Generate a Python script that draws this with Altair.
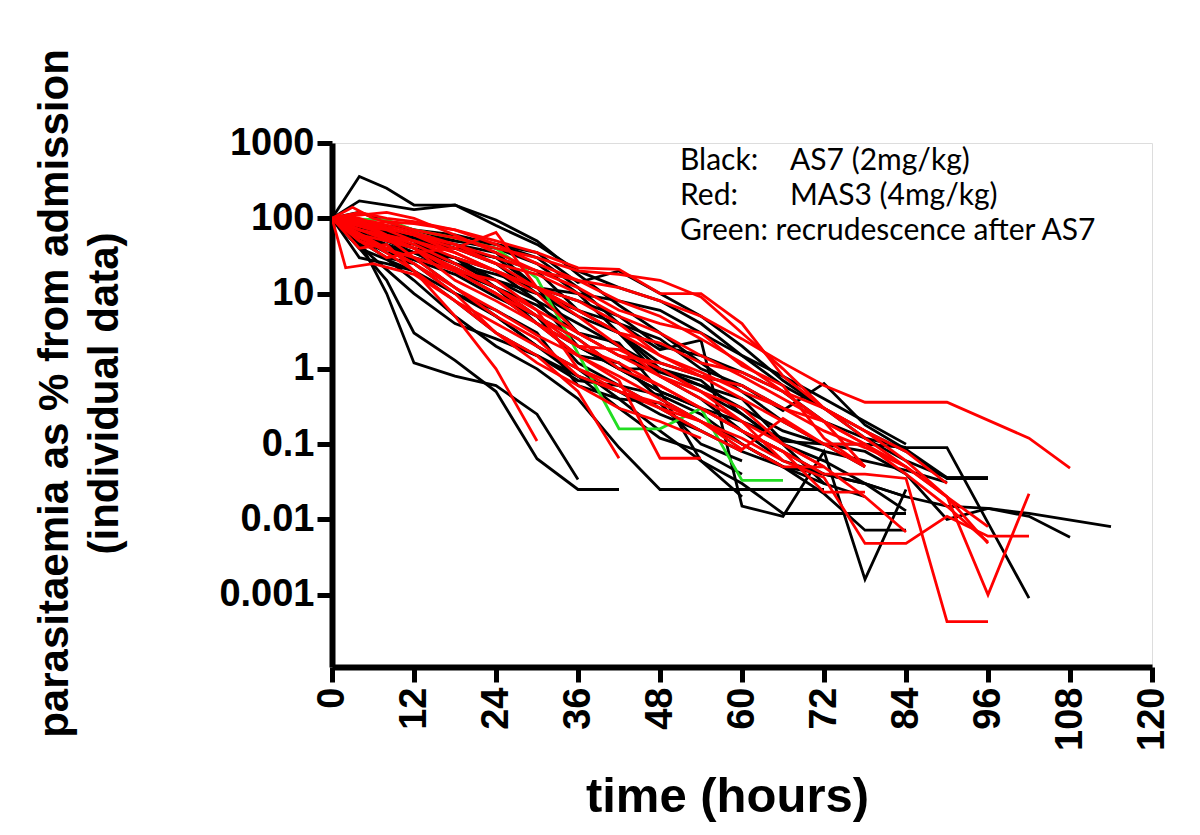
import altair as alt
import pandas as pd

# ---- data: each dict maps time (h) -> parasitaemia (% of admission)
BLACK_LINES = [
    {0: 100, 4: 360, 8: 250, 12: 150, 18: 150, 24: 95, 30: 50, 36: 18, 42: 7, 48: 3, 54: 1.2, 60: 0.5, 66: 0.2, 72: 0.1, 78: 0.05},
    {0: 100, 4: 170, 8: 150, 12: 130, 18: 150, 24: 80, 30: 45, 36: 20, 42: 12, 48: 8, 54: 4, 60: 1.5, 66: 0.6, 72: 0.3, 78: 0.12, 84: 0.06, 90: 0.036, 96: 0.036},
    {0: 100, 6: 80, 12: 60, 18: 40, 24: 30, 30: 12, 36: 8, 42: 5, 48: 2, 54: 1.5, 60: 0.9, 66: 0.5, 72: 0.2, 78: 0.12, 84: 0.09, 90: 0.09, 96: 0.009, 102: 0.0009},
    {0: 100, 4: 60, 12: 45, 18: 30, 24: 12, 30: 5, 36: 2.5, 42: 1, 48: 0.5, 54: 0.3, 60: 0.15, 66: 0.08, 72: 0.04, 78: 0.03, 84: 0.02, 90: 0.015, 96: 0.014, 102: 0.012, 114: 0.008},
    {0: 100, 6: 70, 12: 50, 18: 25, 24: 15, 30: 8, 36: 4, 42: 2, 48: 1, 54: 0.6, 60: 0.3, 66: 0.15, 72: 0.1, 78: 0.08, 84: 0.04, 90: 0.01, 96: 0.014, 102: 0.011, 108: 0.0058},
    {0: 100, 4: 70, 12: 40, 18: 30, 24: 15, 30: 10, 36: 5, 42: 3, 48: 1.2, 54: 0.8, 60: 0.6, 66: 0.28, 72: 0.64, 78: 0.18, 84: 0.085, 90: 0.036, 96: 0.036},
    {0: 100, 6: 50, 12: 35, 18: 20, 24: 10, 30: 4, 36: 2, 42: 1, 48: 0.5, 54: 0.3, 60: 0.2, 66: 0.12, 72: 0.08, 78: 0.06, 84: 0.045, 90: 0.031},
    {0: 100, 4: 40, 12: 20, 18: 10, 24: 5, 30: 2, 36: 0.8, 42: 0.5, 48: 0.25, 54: 0.15, 60: 0.08, 66: 0.05, 72: 0.022, 78: 0.0072, 84: 0.0072},
    {0: 100, 4: 50, 12: 30, 18: 12, 24: 5, 30: 2, 36: 1, 42: 0.4, 48: 0.15, 54: 0.06, 60: 0.03, 66: 0.012, 84: 0.012},
    {0: 100, 4: 80, 12: 50, 18: 40, 24: 25, 30: 10, 36: 6, 42: 4, 48: 1.8, 54: 2.4, 60: 0.015, 66: 0.011, 72: 0.08, 78: 0.0016, 84: 0.025},
    {0: 100, 4: 40, 8: 15, 12: 3, 18: 1.3, 24: 0.5, 30: 0.064, 36: 0.025, 42: 0.025},
    {0: 100, 4: 50, 8: 10, 12: 1.2, 18: 0.8, 24: 0.6, 30: 0.25, 36: 0.034},
    {0: 100, 6: 40, 12: 15, 18: 5, 24: 2, 30: 1, 36: 0.4, 42: 0.09, 48: 0.025, 72: 0.025},
    {0: 100, 4: 90, 8: 70, 12: 55, 18: 40, 24: 30, 30: 20, 36: 6, 42: 3, 48: 1, 54: 0.5, 60: 0.25, 66: 0.1, 72: 0.06, 78: 0.03, 84: 0.013},
    {0: 100, 6: 60, 12: 35, 18: 20, 24: 12, 30: 4, 36: 1.5, 42: 1.2, 48: 0.4, 54: 0.2, 60: 0.1, 66: 0.05, 72: 0.03},
    {0: 100, 4: 50, 8: 30, 12: 25, 18: 10, 24: 6, 30: 3, 36: 0.6, 42: 0.4, 48: 0.35, 54: 0.1, 60: 0.06},
    {0: 100, 4: 70, 12: 55, 18: 45, 24: 35, 30: 12, 36: 3, 42: 1.5, 48: 0.9, 54: 0.6, 60: 0.4, 66: 0.11, 72: 0.1, 78: 0.1, 84: 0.09},
    {0: 100, 4: 30, 8: 25, 12: 20, 18: 8, 24: 3, 30: 1.5, 36: 0.8, 42: 0.3, 48: 0.12, 54: 0.08, 60: 0.04},
    {0: 100, 6: 85, 12: 70, 18: 50, 24: 40, 30: 25, 36: 10, 42: 8, 48: 6, 54: 3, 60: 1.5, 66: 0.8, 72: 0.4, 78: 0.2, 84: 0.1},
    {0: 100, 4: 45, 12: 35, 18: 30, 24: 20, 30: 8, 36: 2, 42: 1, 48: 1, 54: 0.7, 60: 0.25, 66: 0.1, 72: 0.03, 78: 0.02},
    {0: 100, 6: 30, 12: 10, 18: 4, 24: 2.5, 30: 1.5, 36: 0.7, 42: 0.6, 48: 0.3, 54: 0.15},
    {0: 100, 4: 75, 12: 60, 18: 50, 24: 45, 30: 30, 36: 12, 42: 4, 48: 2.5, 54: 1, 60: 0.6, 66: 0.3},
    {0: 100, 8: 50, 12: 40, 18: 25, 24: 18, 30: 12, 36: 10, 42: 3, 48: 0.8, 54: 0.4, 60: 0.15, 66: 0.06, 72: 0.04, 78: 0.03, 84: 0.02},
    {0: 100, 4: 65, 8: 45, 12: 30, 18: 22, 24: 12, 30: 7, 36: 3, 42: 2.2, 48: 0.5, 54: 0.06, 60: 0.02},
    {0: 100, 3: 60, 8: 35, 12: 28, 18: 18, 24: 9, 30: 5, 36: 1.2, 42: 0.6, 48: 0.45, 54: 0.25, 60: 0.1, 66: 0.05, 72: 0.04},
    {0: 100, 4: 120, 8: 90, 12: 70, 18: 60, 24: 45, 30: 35, 36: 14, 42: 20, 48: 10, 54: 5, 60: 2, 66: 0.7, 72: 0.3, 78: 0.15, 84: 0.08, 90: 0.035, 96: 0.035},
]

RED_LINES = [
    {0: 100, 4: 120, 8: 100, 12: 90, 18: 70, 24: 50, 30: 35, 36: 22, 42: 21, 48: 10, 54: 10, 60: 4, 66: 0.8, 72: 0.3, 78: 0.12, 84: 0.05},
    {0: 100, 4: 80, 8: 90, 12: 85, 18: 70, 24: 45, 30: 25, 36: 15, 42: 12, 48: 8, 54: 5, 60: 2.5, 66: 1.2, 72: 0.6, 78: 0.36, 90: 0.36, 102: 0.12, 108: 0.048},
    {0: 100, 6: 60, 12: 40, 18: 20, 24: 10, 30: 5, 36: 2, 42: 1.2, 48: 0.6, 54: 0.3, 60: 0.15, 66: 0.08, 72: 0.04, 78: 0.04, 84: 0.035, 90: 0.00044, 96: 0.00044},
    {0: 100, 4: 70, 12: 50, 18: 30, 24: 20, 30: 12, 36: 6, 42: 3, 48: 2.2, 54: 1.2, 60: 0.9, 66: 0.5, 72: 0.3, 78: 0.15, 84: 0.06, 90: 0.02, 96: 0.001, 102: 0.022},
    {0: 100, 4: 50, 12: 30, 18: 12, 24: 5, 30: 2.5, 36: 0.8, 42: 0.5, 48: 0.35, 54: 0.2, 60: 0.12, 66: 0.06, 72: 0.036, 78: 0.0048, 84: 0.0048, 90: 0.011, 96: 0.006, 102: 0.006},
    {0: 100, 6: 80, 12: 60, 18: 40, 24: 25, 30: 12, 36: 8, 42: 4, 48: 1.5, 54: 0.9, 60: 0.5, 66: 0.3, 72: 0.15, 78: 0.09, 84: 0.05, 90: 0.02, 96: 0.0048},
    {0: 100, 4: 90, 8: 60, 12: 45, 18: 25, 24: 12, 30: 6, 36: 3, 42: 1.5, 48: 0.8, 54: 0.4, 60: 0.2, 66: 0.1, 72: 0.05, 78: 0.02, 84: 0.0068},
    {0: 100, 4: 60, 12: 20, 18: 5, 24: 1, 30: 0.11},
    {0: 100, 6: 50, 12: 25, 18: 10, 24: 3, 30: 1.5, 36: 0.5, 42: 0.065},
    {0: 100, 2: 22, 6: 25, 12: 18, 18: 8, 24: 4, 30: 2, 36: 1, 42: 0.5, 48: 0.3, 54: 0.2, 60: 0.1, 66: 0.05, 72: 0.05},
    {0: 100, 4: 90, 12: 60, 18: 35, 24: 20, 30: 12, 36: 6, 42: 3, 48: 1.5, 54: 0.8, 60: 0.4, 66: 0.2, 72: 0.1, 78: 0.1},
    {0: 100, 6: 70, 12: 40, 18: 22, 24: 12, 30: 5, 36: 2.5, 42: 1, 48: 0.6, 54: 0.3, 60: 0.15, 66: 0.08, 72: 0.023, 78: 0.023},
    {0: 100, 4: 110, 8: 120, 12: 100, 18: 60, 24: 35, 30: 20, 36: 15, 42: 8, 48: 5, 54: 2.5, 60: 1.2, 66: 0.5, 72: 0.2, 78: 0.1, 84: 0.05, 90: 0.02, 96: 0.008},
    {0: 100, 4: 50, 8: 30, 12: 35, 18: 40, 24: 65, 30: 12, 36: 5, 42: 2, 48: 0.8, 54: 0.5, 60: 0.3, 66: 0.1, 72: 0.05},
    {0: 100, 4: 80, 8: 70, 12: 50, 18: 35, 24: 20, 30: 10, 36: 3, 42: 1.5, 48: 1.2, 54: 0.8, 60: 0.6, 66: 0.3, 72: 0.2, 78: 0.05},
    {0: 100, 3: 140, 6: 100, 12: 70, 18: 55, 24: 40, 30: 30, 36: 20, 42: 18, 48: 15, 54: 9, 60: 3, 66: 1, 72: 0.3, 78: 0.15, 84: 0.08, 90: 0.03},
    {0: 100, 4: 60, 8: 50, 12: 40, 18: 15, 24: 8, 30: 4, 36: 2, 42: 1.8, 48: 1, 54: 0.5, 60: 0.2, 66: 0.06},
    {0: 100, 6: 70, 12: 40, 18: 20, 24: 10, 30: 4, 36: 1.5, 42: 0.8, 48: 0.4, 54: 0.2, 60: 0.085, 66: 0.22, 72: 0.1, 78: 0.05},
    {0: 100, 4: 70, 8: 55, 12: 30, 18: 20, 24: 15, 30: 6, 36: 1, 42: 0.6, 48: 0.3, 54: 0.15, 60: 0.08},
    {0: 100, 6: 90, 12: 65, 18: 45, 24: 25, 30: 18, 36: 10, 42: 5, 48: 3, 54: 1.5, 60: 0.8, 66: 0.4, 72: 0.2, 78: 0.1, 84: 0.04, 90: 0.015, 96: 0.005},
    {0: 100, 4: 40, 8: 45, 12: 20, 18: 8, 24: 3, 30: 1.2, 36: 0.6, 42: 0.3, 48: 0.2, 54: 0.12},
    {0: 100, 4: 100, 8: 75, 12: 60, 18: 45, 24: 30, 30: 20, 36: 12, 42: 6, 48: 4, 54: 3, 60: 1.1, 66: 0.6, 72: 0.12, 78: 0.05},
    {0: 100, 4: 55, 8: 40, 12: 25, 18: 12, 24: 6, 30: 2.8, 36: 1.5, 42: 0.7, 48: 0.065, 54: 0.065},
]

GREEN_LINES = [
    {0: 100, 8: 95, 12: 70, 18: 55, 24: 40, 30: 16, 36: 1.6, 42: 0.16, 48: 0.16, 54: 0.3, 60: 0.033, 66: 0.033},
]

X_TICKS = [0, 12, 24, 36, 48, 60, 72, 84, 96, 108, 120]
Y_TICKS = [1000, 100, 10, 1, 0.1, 0.01, 0.001]
LEGEND_KEYS = ["Black:", "Red:"]
LEGEND_TEXTS = ["AS7 (2mg/kg)", "MAS3 (4mg/kg)"]
LEGEND_GREEN = "Green: recrudescence after AS7"


def to_frame(lines, group):
    rows = []
    for i, line in enumerate(lines):
        for t, v in line.items():
            rows.append({"id": f"{group}{i}", "group": group, "t": t, "v": v})
    return pd.DataFrame(rows)


df = pd.concat([to_frame(BLACK_LINES, "black"), to_frame(GREEN_LINES, "green"), to_frame(RED_LINES, "red")])

FONT = "Liberation Sans"

x_enc = alt.X(
    "t:Q",
    scale=alt.Scale(domain=[0, 120], nice=False, zero=False),
    axis=alt.Axis(
        values=X_TICKS, labelAngle=270, labelFontSize=38, labelFontWeight="bold", labelFont=FONT,
        labelPadding=5, tickSize=15, tickWidth=5, tickColor="black", domainWidth=6, domainColor="black",
        labelColor="black", grid=False, title="time (hours)", titleFontSize=49, titleFont=FONT,
        titleFontWeight="bold", titleColor="black", titlePadding=22, titleX=395,
    ),
)
y_enc = alt.Y(
    "v:Q",
    scale=alt.Scale(type="log", domain=[10 ** -3.96, 1000], nice=False),
    axis=alt.Axis(
        values=Y_TICKS, format="~g", labelFontSize=38, labelFontWeight="bold", labelFont=FONT,
        labelPadding=3, tickSize=15, tickWidth=5, tickColor="black", domainWidth=6, domainColor="black",
        labelColor="black", grid=False, title=["parasitaemia as % from admission", "(individual data)"],
        titleFontSize=42, titleFont=FONT, titleFontWeight="bold", titleColor="black",
        titleLineHeight=50, titlePadding=92, titleY=250,
    ),
)

color_map = {"black": "#000000", "green": "#22dd22", "red": "#ff0000"}


def layer_for(group):
    return (
        alt.Chart(df[df["group"] == group])
        .mark_line(strokeWidth=2.8, color=color_map[group], clip=True)
        .encode(x=x_enc, y=y_enc, detail="id:N", order="t:Q")
    )


LEG_FONT = "Lato"
LEG_SIZE = 30
LEG_STEP = 35
leg_layers = []
for i, (k, txt) in enumerate(zip(LEGEND_KEYS, LEGEND_TEXTS)):
    leg_layers.append(
        alt.Chart(pd.DataFrame({"text": [k]})).mark_text(
            align="left", baseline="alphabetic", fontSize=LEG_SIZE, font=LEG_FONT, color="black"
        ).encode(text="text:N", x=alt.value(348), y=alt.value(27 + LEG_STEP * i))
    )
    leg_layers.append(
        alt.Chart(pd.DataFrame({"text": [txt]})).mark_text(
            align="left", baseline="alphabetic", fontSize=LEG_SIZE, font=LEG_FONT, color="black"
        ).encode(text="text:N", x=alt.value(458), y=alt.value(27 + LEG_STEP * i))
    )
leg_layers.append(
    alt.Chart(pd.DataFrame({"text": [LEGEND_GREEN]})).mark_text(
        align="left", baseline="alphabetic", fontSize=LEG_SIZE, font=LEG_FONT, color="black"
    ).encode(text="text:N", x=alt.value(348), y=alt.value(27 + 2 * LEG_STEP))
)

chart = (
    alt.layer(layer_for("black"), layer_for("green"), layer_for("red"), *leg_layers)
    .properties(
        width=820,
        height=524,
        autosize=alt.AutoSizeParams(type="none"),
        padding={"left": 324, "top": 135, "right": 40, "bottom": 160},
    )
    .configure_view(stroke=None)
    .configure(background="white")
)

chart.save("out.html", embed_options={"renderer": "svg", "actions": False})
